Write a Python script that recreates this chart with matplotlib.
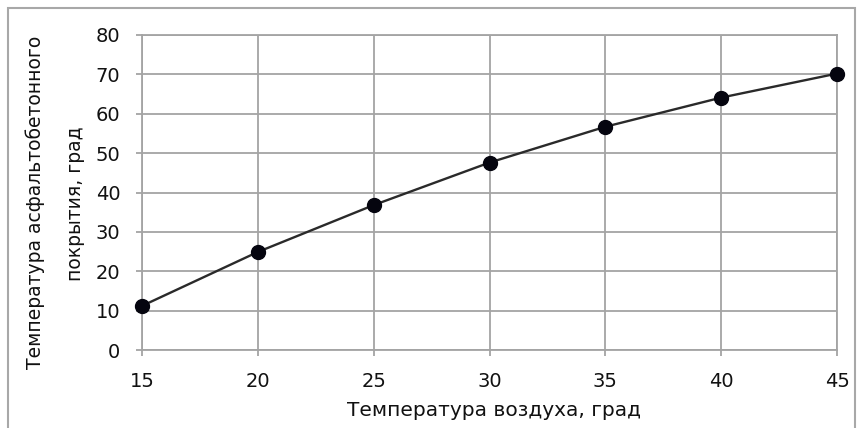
import matplotlib.pyplot as plt
from matplotlib.patches import Rectangle

# данные с графика
t_air = [15, 20, 25, 30, 35, 40, 45]
t_asphalt = [11.2, 24.9, 36.8, 47.6, 56.7, 64.1, 70.2]
y_ticks = [0, 10, 20, 30, 40, 50, 60, 70, 80]
x_ticks = [15, 20, 25, 30, 35, 40, 45]

plt.rcParams['font.family'] = ['DejaVu Sans']

W, H = 862, 428
fig = plt.figure(figsize=(W / 100, H / 100), dpi=100)
ax = fig.add_axes([142 / W, 1 - 350 / H, (837 - 142) / W, (350 - 35) / H])

ax.plot(t_air, t_asphalt, color='#2a2a2a', lw=1.7, zorder=3)
ax.plot(t_air, t_asphalt, 'o', color='#05050f', ms=10, zorder=4, clip_on=False)

ax.set_xlim(15, 45)
ax.set_ylim(0, 80)
ax.set_xticks(x_ticks)
ax.set_yticks(y_ticks)
ax.grid(True, color='#a4a4a4', lw=1.3)
ax.set_axisbelow(True)
for s in ax.spines.values():
    s.set_color('#a4a4a4')
    s.set_linewidth(1.3)
ax.tick_params(axis='both', colors='#a4a4a4', length=4.5, width=1.3,
               labelcolor='#111111', labelsize=14)
ax.tick_params(axis='x', pad=11)
ax.tick_params(axis='y', pad=11)

fig.text(494 / W, 1 - 411 / H, 'Температура воздуха, град',
         ha='center', va='center', fontsize=14.5, color='#111111')
fig.text(35 / W, 1 - 202 / H, 'Температура асфальтобетонного',
         ha='center', va='center', rotation=90, fontsize=13.5, color='#111111')
fig.text(76 / W, 1 - 204 / H, 'покрытия, град',
         ha='center', va='center', rotation=90, fontsize=13.5, color='#111111')

# внешняя рамка
fig.patches.append(Rectangle((8 / W, -0.05), (855 - 8) / W, 1 - 8 / H + 0.05,
                             transform=fig.transFigure, fill=False,
                             edgecolor='#a8a8a8', lw=1.5))

fig.savefig('out.png', dpi=100)
